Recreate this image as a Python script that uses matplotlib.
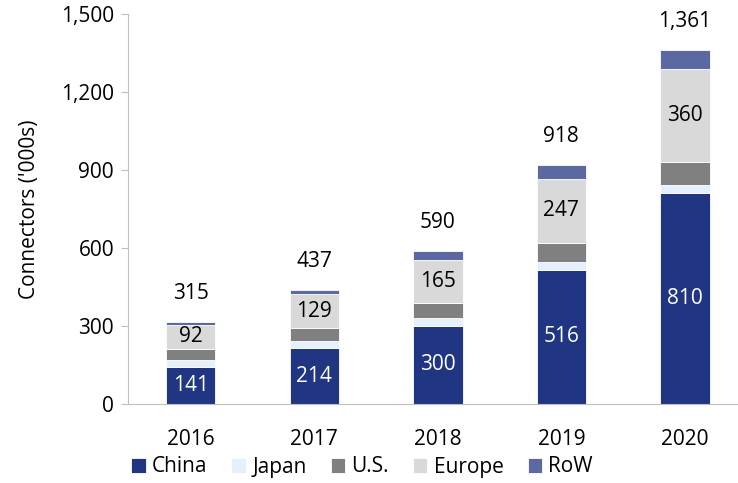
import numpy as np
import matplotlib.pyplot as plt

plt.rcParams['font.family'] = ['Open Sans', 'DejaVu Sans']

years = ["2016", "2017", "2018", "2019", "2020"]
china = [141, 214, 300, 516, 810]
japan = [28, 28, 30, 31, 32]
us = [43, 51, 58, 73, 88]
europe = [92, 129, 165, 247, 360]
row = [11, 15, 37, 51, 71]
totals = [315, 437, 590, 918, 1361]

series = [
    ("China", china, "#203682"),
    ("Japan", japan, "#E5F0FC"),
    ("U.S.", us, "#808080"),
    ("Europe", europe, "#D9D9D9"),
    ("RoW", row, "#5A69A1"),
]

FS = 15

fig = plt.figure(figsize=(7.38, 4.83), dpi=100)
ax = fig.add_axes([128 / 738, 79 / 483, 610 / 738, 390 / 483])

x = np.arange(len(years))
width = 0.4
bottom = np.zeros(len(years))
bars = {}
for name, vals, color in series:
    vals = np.array(vals, dtype=float)
    bars[name] = ax.bar(x, vals, width, bottom=bottom, color=color, label=name,
                        edgecolor="white", linewidth=0.6)
    bottom += vals

# segment labels
ax.bar_label(bars["China"], labels=[str(v) for v in china], label_type="center",
             color="white", fontsize=FS)
ax.bar_label(bars["Europe"], labels=[str(v) for v in europe], label_type="center",
             color="black", fontsize=FS)
# totals above
for xi, t, b in zip(x, totals, bottom):
    ax.annotate(f"{t:,}", (xi, b), xytext=(0, 13), textcoords="offset points",
                ha="center", va="bottom", fontsize=FS)

ax.set_ylim(0, 1500)
ax.set_yticks(np.arange(0, 1501, 300))
ax.set_yticklabels([f"{v:,}" for v in range(0, 1501, 300)])
ax.set_xlim(-0.508, 4.43)
ax.set_xticks(x)
ax.set_xticklabels(years)
ax.set_ylabel("Connectors ('000s)", fontsize=FS, labelpad=15)

for s in ["top", "right"]:
    ax.spines[s].set_visible(False)
ax.spines["left"].set_color("#BFBFBF")
ax.spines["bottom"].set_color("#BFBFBF")
ax.tick_params(axis="y", direction="out", length=5, color="#BFBFBF", labelsize=FS, pad=5)
ax.tick_params(axis="x", length=0, labelsize=FS, pad=18)

fig.legend(loc="center", bbox_to_anchor=(362 / 738, 1 - 467 / 483), ncol=5,
           frameon=False, fontsize=FS, handlelength=0.7, handleheight=0.7,
           handletextpad=0.3, columnspacing=1.15)

fig.savefig("out.png", dpi=100)
